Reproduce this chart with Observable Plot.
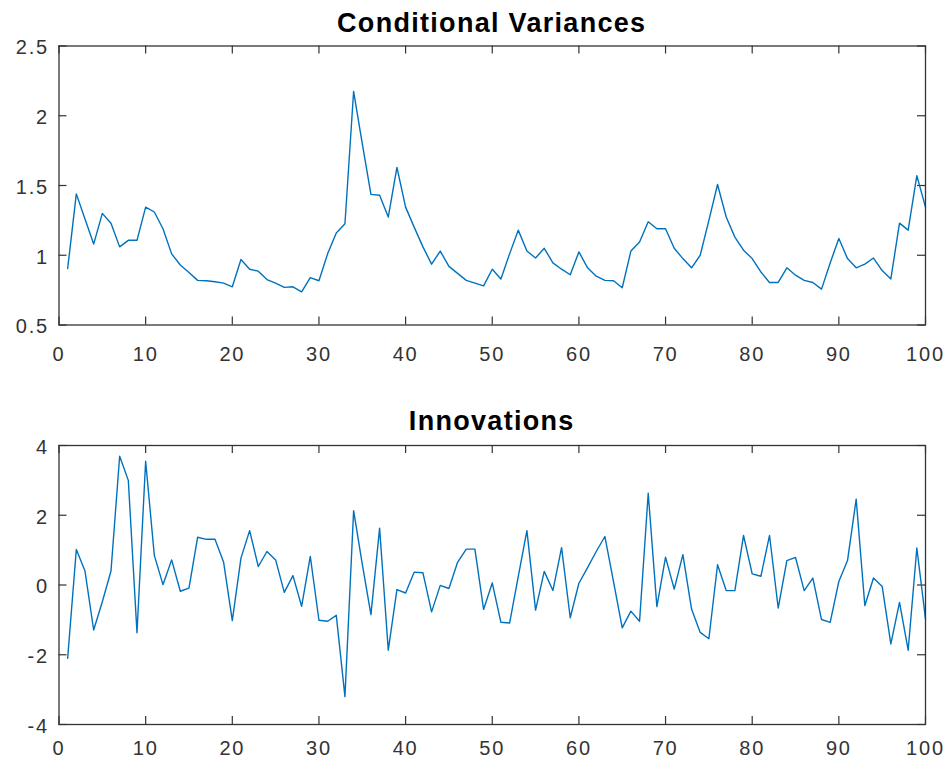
<!DOCTYPE html>
<html><head><meta charset="utf-8">
<script src="https://cdn.jsdelivr.net/npm/d3@7"></script>
<script src="https://cdn.jsdelivr.net/npm/@observablehq/plot@0.6"></script>
<style>
body{margin:0;background:#fff;}
#wrap{position:relative;width:951px;height:767px;overflow:hidden;background:#fff;}
.title{position:absolute;left:58.5px;width:866.5px;text-align:center;font:bold 27px "Liberation Sans",Arial,sans-serif;letter-spacing:1.3px;line-height:27px;color:#000;white-space:nowrap;}
#p1{position:absolute;left:0;top:0}
#p2{position:absolute;left:0;top:383px}
#wrap svg text{letter-spacing:1.8px;}
</style></head><body>
<div id="wrap"><div id="p1"></div><div id="p2"></div>
<div class="title" style="top:9.5px">Conditional Variances</div>
<div class="title" style="top:407.5px">Innovations</div></div>
<script>
const titles = ["Conditional Variances", "Innovations"];
const xTicks = [0,10,20,30,40,50,60,70,80,90,100];
const varTicks = [0.5,1,1.5,2,2.5];
const innTicks = [-4,-2,0,2,4];
const variances = [
  0.905,1.44,1.26,1.08,1.30,1.23,1.06,1.107,1.107,1.345,
  1.31,1.19,1.01,0.93,0.876,0.82,0.817,0.81,0.80,0.774,
  0.97,0.90,0.886,0.826,0.80,0.77,0.774,0.738,0.84,0.817,
  1.01,1.16,1.226,2.174,1.80,1.436,1.43,1.274,1.63,1.345,
  1.20,1.06,0.936,1.03,0.92,0.87,0.82,0.80,0.78,0.90,
  0.83,1.01,1.18,1.03,0.98,1.05,0.945,0.90,0.86,1.024,
  0.91,0.85,0.82,0.817,0.767,1.03,1.095,1.24,1.19,1.19,
  1.05,0.976,0.91,1.0,1.25,1.507,1.274,1.13,1.036,0.976,
  0.88,0.805,0.805,0.91,0.857,0.82,0.805,0.757,0.945,1.12,
  0.976,0.91,0.936,0.98,0.89,0.83,1.23,1.18,1.57,1.345
];
const innovations = [
  -2.10,1.02,0.40,-1.29,-0.48,0.40,3.69,3.0,-1.37,3.55,
  0.85,0.01,0.72,-0.18,-0.09,1.37,1.31,1.31,0.65,-1.02,
  0.77,1.56,0.53,0.96,0.72,-0.21,0.27,-0.61,0.82,-1.01,
  -1.04,-0.87,-3.2,2.13,0.6,-0.85,1.63,-1.87,-0.13,-0.23,
  0.37,0.35,-0.77,-0.01,-0.10,0.65,1.03,1.03,-0.70,0.06,
  -1.07,-1.09,0.24,1.56,-0.72,0.39,-0.16,1.07,-0.94,0.05,
  0.50,0.96,1.39,0.09,-1.23,-0.75,-1.04,2.63,-0.62,0.80,
  -0.12,0.87,-0.69,-1.36,-1.54,0.58,-0.16,-0.16,1.42,0.32,
  0.25,1.42,-0.66,0.70,0.79,-0.16,0.20,-0.99,-1.07,0.10,
  0.70,2.46,-0.59,0.20,-0.04,-1.69,-0.50,-1.87,1.06,-0.97
];

function panel(values, yDomain, yTicks, height, mt, mb, labelPad) {
  const W = 951, ml = 58.5, mr = 26;
  const ih = height - mt - mb, iw = W - ml - mr;
  const ax = "#333333";
  return Plot.plot({
    width: W, height,
    marginLeft: ml, marginRight: mr, marginTop: mt, marginBottom: mb,
    x: {domain: [0, 100]},
    y: {domain: yDomain},
    style: {fontFamily: "'Liberation Sans', Arial, sans-serif", fontSize: "20px", color: ax, background: "white"},
    marks: [
      Plot.tickX(xTicks, {x: d => d, insetTop: ih - 8, stroke: ax, strokeWidth: 1.2}),
      Plot.tickX(xTicks, {x: d => d, insetBottom: ih - 8, stroke: ax, strokeWidth: 1.2}),
      Plot.tickY(yTicks, {y: d => d, insetRight: iw - 8, stroke: ax, strokeWidth: 1.2}),
      Plot.tickY(yTicks, {y: d => d, insetLeft: iw - 8, stroke: ax, strokeWidth: 1.2}),
      Plot.axisX(xTicks, {anchor: "bottom", tickSize: 0, tickPadding: labelPad, label: null, tickFormat: d => String(d), fill: ax}),
      Plot.axisY(yTicks, {anchor: "left", tickSize: 0, tickPadding: 10, dy: 2, label: null, tickFormat: d => String(d), fill: ax}),
      Plot.lineY(values, {x: (d, i) => i + 1, y: d => d, stroke: "#0072BD", strokeWidth: 1.4}),
      Plot.frame({stroke: ax, strokeWidth: 1.3})
    ]
  });
}

document.getElementById("p1").appendChild(panel(variances, [0.5, 2.5], varTicks, 383, 45.5, 58.5, 22));
document.getElementById("p2").appendChild(panel(innovations, [-4, 4], innTicks, 384, 62, 43, 16));
</script>
</body></html>
